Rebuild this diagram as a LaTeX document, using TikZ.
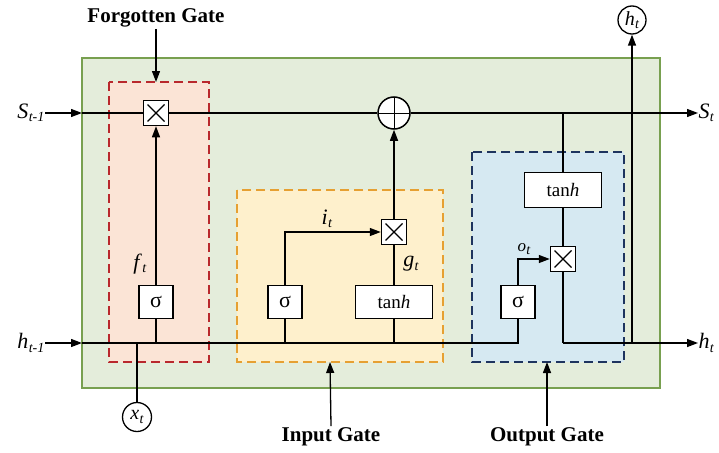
\documentclass[tikz,border=0pt]{standalone}
\usepackage{fontspec}
\setmainfont{Liberation Serif}
\usetikzlibrary{arrows.meta}
\definecolor{gfill}{RGB}{228,237,219}
\definecolor{gline}{RGB}{120,160,80}
\definecolor{rfill}{RGB}{251,228,214}
\definecolor{rline}{RGB}{185,40,45}
\definecolor{ofill}{RGB}{254,240,204}
\definecolor{oline}{RGB}{230,160,50}
\definecolor{bfill}{RGB}{214,233,242}
\definecolor{bline}{RGB}{30,52,95}
\newcommand\sublab[2]{\textit{#1}\kern0.3pt\raisebox{-0.35ex}{\fontsize{14}{14}\selectfont\textit{#2}}}
\begin{document}
\begin{tikzpicture}[x=1pt,y=-1pt,line width=1.3pt,
  arr/.style={-{Triangle[length=11pt,width=8pt]}},
  sigbox/.style={draw,fill=white,minimum width=34pt,minimum height=33pt,inner sep=0pt,line width=1.5pt,font=\fontsize{22}{22}\selectfont},
  tanhbox/.style={draw,fill=white,minimum width=77pt,minimum height=33pt,inner sep=0pt,line width=1.5pt,font=\fontsize{19}{19}\selectfont},
  mulbox/.style={draw,fill=white,minimum size=25pt,inner sep=0pt,line width=1.5pt,
    path picture={\draw[line width=1.2pt]
      ([shift={(4pt,-4pt)}]path picture bounding box.north west) -- ([shift={(-4pt,4pt)}]path picture bounding box.south east)
      ([shift={(-4pt,-4pt)}]path picture bounding box.north east) -- ([shift={(4pt,4pt)}]path picture bounding box.south west);}},
  plusnode/.style={draw,fill=white,circle,minimum size=32pt,inner sep=0pt,line width=1.5pt,
    path picture={\draw[line width=0.8pt]
      (path picture bounding box.west) -- (path picture bounding box.east)
      (path picture bounding box.north) -- (path picture bounding box.south);}},
  circnode/.style={draw,fill=white,circle,minimum size=29pt,inner sep=0pt,line width=1.3pt,font=\fontsize{20}{20}\selectfont},
  gatelab/.style={font=\fontsize{21}{21}\selectfont\bfseries,inner sep=1pt},
  siglab/.style={font=\fontsize{22}{22}\selectfont,inner sep=0pt},
  dashbox/.style={line width=1.8pt,dash pattern=on 9pt off 5pt}
]
\useasboundingbox (0,0) rectangle (719,452);
% regions
\draw[gline,fill=gfill,line width=2pt] (82,58) rectangle (660,388);
\draw[dashbox,rline,fill=rfill] (109,82) rectangle (209,362);
\draw[dashbox,oline,fill=ofill] (237,190) rectangle (443,362);
\draw[dashbox,bline,fill=bfill] (472,152) rectangle (624,362);
% coordinates
\coordinate (gS) at (82,113);
\coordinate (gH) at (82,343);
\coordinate (jS) at (563,113);
\coordinate (jO) at (563,343);
\coordinate (jH) at (632,343);
\coordinate (jSO) at (518,343);
\coordinate (jF) at (156,343);
\coordinate (jX) at (137,343);
\coordinate (jI) at (285,343);
\coordinate (jT) at (394,343);
\coordinate (fgTop) at (156,82);
\coordinate (igBot) at (330,362);
\coordinate (ogBot) at (547,362);
% nodes
\node[mulbox] (mulF) at (156,113) {};
\node[plusnode] (plus) at (394,113) {};
\node[sigbox] (sigF) at (156,302) {σ};
\node[sigbox] (sigI) at (285,302) {σ};
\node[tanhbox] (tanhI) at (394,302) {tan\textit{h}};
\node[mulbox] (mulI) at (394,232) {};
\node[tanhbox,minimum height=35pt] (tanhO) at (563,190) {tan\textit{h}};
\node[mulbox] (mulO) at (563,259) {};
\node[sigbox] (sigO) at (518,302) {σ};
\node[circnode] (xt) at (137,417) {\sublab{x}{t}};
\node[circnode,minimum size=28pt] (ht) at (632,20) {\sublab{h}{t}};
% outer labels
\node[siglab,anchor=east] (Sin) at (45,113) {\sublab{S}{t-1}};
\node[siglab,anchor=east] (Hin) at (45,343) {\sublab{h}{t-1}};
\node[siglab,anchor=west] (Sout) at (698,113) {\sublab{S}{t}};
\node[siglab,anchor=west] (Hout) at (698,343) {\sublab{h}{t}};
\node[gatelab] (FG) at (156,18) {Forgotten Gate};
\node[gatelab] (IG) at (331,437) {Input Gate};
\node[gatelab] (OG) at (547,437) {Output Gate};
% inner labels
\node[siglab] (ft) at (140,264) {\sublab{f}{t}};
\node[siglab] (it) at (327,219) {\sublab{i}{t}};
\node[siglab] (gt) at (411,264) {\sublab{g}{t}};
\node[siglab,font=\fontsize{17}{17}\selectfont] (ot) at (524,249) {\sublab{o}{t}};
% cell state line
\draw[arr] (Sin.east) -- (gS);
\draw (gS) -- (mulF.west);
\draw (mulF.east) -- (plus.west);
\draw[arr] (plus.east) -- (Sout.west);
\draw (jS) -- (tanhO.north);
\draw (tanhO.south) -- (mulO.north);
\draw (mulO.south) -- (jO);
\draw[arr] (jO) -- (Hout.west);
\draw[arr] (jH) -- (ht.south);
% hidden input line
\draw[arr] (Hin.east) -- (gH);
\draw (gH) -- (jSO) -- (sigO.south);
\draw (jX) -- (xt.north);
\draw (jF) -- (sigF.south);
\draw[arr] (sigF.north) -- (mulF.south);
\draw (jI) -- (sigI.south);
\draw[arr] (sigI.north) |- (mulI.west);
\draw (jT) -- (tanhI.south);
\draw (tanhI.north) -- (mulI.south);
\draw[arr] (mulI.north) -- (plus.south);
\draw[arr] (sigO.north) |- (mulO.west);
% gate arrows
\draw[arr] (FG.south) -- (fgTop);
\draw[arr] (IG.north) -- (igBot);
\draw[arr] (OG.north) -- (ogBot);
\end{tikzpicture}
\end{document}
